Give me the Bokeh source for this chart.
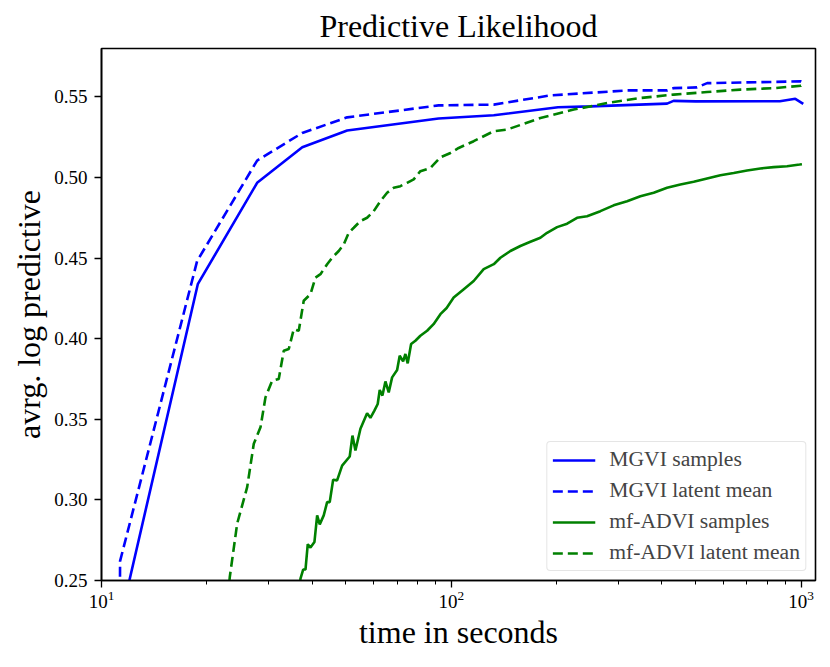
from bokeh.plotting import figure
from bokeh.models import Range1d, FixedTicker, NumeralTickFormatter, Legend
from bokeh.embed import file_html
from bokeh.resources import INLINE

TITLE = "Predictive Likelihood"
X_LABEL = "time in seconds"
Y_LABEL = "avrg. log predictive"
Y_TICKS = [0.25, 0.30, 0.35, 0.40, 0.45, 0.50, 0.55]

# MGVI samples (solid blue)
mgvi_samples_t = [11.3, 18.85, 27.86, 37.5, 50.4, 92.0, 132.3, 202.0, 250.0, 414.0, 432.0,
                  500.0, 870.0, 963.0, 1015.0]
mgvi_samples_v = [0.225, 0.4338, 0.4967, 0.5188, 0.5291, 0.5366, 0.5386, 0.5436, 0.5441, 0.5458,
                  0.5475, 0.5472, 0.5473, 0.5488, 0.5457]

# MGVI latent mean (dashed blue)
mgvi_mean_t = [11.25, 11.3, 18.77, 27.86, 37.5, 50.4, 92.0, 132.3, 192.0, 318.0, 414.0, 432.0,
               504.0, 539.0, 1000.0, 1015.0]
mgvi_mean_v = [0.15, 0.262, 0.4482, 0.5105, 0.5276, 0.5373, 0.5447, 0.5452, 0.5509, 0.5540,
               0.5540, 0.5554, 0.5559, 0.5585, 0.5596, 0.5590]

# mf-ADVI samples (solid green)
advi_samples_t = [36.9, 37.06, 37.72, 38.30, 38.88, 39.58, 40.63, 41.36, 42.07, 43.19, 44.17,
                  44.93, 45.95, 47.17, 48.75, 51.25, 52.18, 53.21, 55.00, 57.46, 58.73, 60.29,
                  61.62, 62.44, 63.56, 64.83, 66.25, 67.75, 70.02, 71.22, 72.84, 73.94, 75.07,
                  76.77, 78.97, 81.6, 85.3, 89.0, 93.1, 97.0, 101.6, 108.6, 115.9, 123.8, 132.3,
                  138.2, 147.6, 157.6, 168.4, 179.8, 187.9, 200.7, 214.4, 228.9, 244.5, 266.9,
                  291.3, 318.2, 347.3, 379.1, 414.0, 451.9, 493.3, 538.8, 588.1, 641.9, 701.1,
                  765.2, 835.2, 912.0, 990.8, 1006.0]
advi_samples_v = [0.246, 0.2512, 0.2568, 0.2568, 0.2725, 0.2704, 0.2739, 0.2904, 0.2848, 0.2904,
                  0.2986, 0.2986, 0.3125, 0.3121, 0.3213, 0.3269, 0.3399, 0.3306, 0.3441, 0.3537,
                  0.3509, 0.3554, 0.3595, 0.3682, 0.3647, 0.3735, 0.3667, 0.3760, 0.3806, 0.3894,
                  0.3859, 0.3905, 0.3847, 0.3967, 0.3987, 0.4018, 0.4049, 0.4090, 0.4152, 0.4190,
                  0.4255, 0.4307, 0.4358, 0.4431, 0.4462, 0.4502, 0.4544, 0.4575, 0.4601, 0.4626,
                  0.4657, 0.4692, 0.4713, 0.4750, 0.4760, 0.4791, 0.4827, 0.4853, 0.4884, 0.4905,
                  0.4936, 0.4957, 0.4973, 0.4994, 0.5014, 0.5028, 0.5043, 0.5056, 0.5064, 0.5070,
                  0.5080, 0.5082]

# mf-ADVI latent mean (dashed green)
advi_mean_t = [23.0, 23.27, 24.43, 26.09, 27.25, 28.48, 29.43, 30.75, 32.12, 33.20, 34.31, 35.46,
               36.64, 37.86, 39.58, 40.90, 42.27, 44.17, 45.64, 47.68, 49.27, 50.92, 52.63, 55.00,
               57.46, 60.02, 62.73, 65.55, 68.47, 71.55, 74.78, 78.10, 81.61, 87.18, 93.11, 99.45,
               105.0, 115.9, 132.3, 144.4, 179.8, 223.9, 279.0, 347.3, 432.4, 538.8, 670.8, 835.2,
               1000.0, 1006.0]
advi_mean_v = [0.240, 0.2522, 0.2853, 0.3079, 0.3348, 0.3450, 0.3636, 0.3739, 0.3750, 0.3925,
               0.3936, 0.4059, 0.4049, 0.4235, 0.4276, 0.4379, 0.4400, 0.4462, 0.4502, 0.4544,
               0.4585, 0.4657, 0.4688, 0.4730, 0.4750, 0.4791, 0.4853, 0.4905, 0.4936, 0.4946,
               0.4967, 0.4988, 0.5039, 0.5059, 0.5125, 0.5152, 0.5183, 0.5225, 0.5287, 0.5297,
               0.5369, 0.5421, 0.5462, 0.5493, 0.5514, 0.5530, 0.5545, 0.5554, 0.5569, 0.5572]

FONT = "Liberation Serif"
BLUE = "#0000ff"
GREEN = "#008000"

p = figure(frame_width=714, frame_height=532, x_axis_type="log",
           x_range=Range1d(10, 1100), y_range=Range1d(0.25, 0.58),
           output_backend="svg", toolbar_location=None,
           min_border_left=101, min_border_right=10, min_border_top=48, min_border_bottom=80,
           title=TITLE)

p.line(mgvi_samples_t, mgvi_samples_v, line_color=BLUE, line_width=2.6, legend_label="MGVI samples")
p.line(mgvi_mean_t, mgvi_mean_v, line_color=BLUE, line_width=2.6, line_dash="10 5",
       legend_label="MGVI latent mean")
p.line(advi_samples_t, advi_samples_v, line_color=GREEN, line_width=2.6, legend_label="mf-ADVI samples")
p.line(advi_mean_t, advi_mean_v, line_color=GREEN, line_width=2.6, line_dash="10 5",
       legend_label="mf-ADVI latent mean")

p.title.text_font = FONT
p.title.text_font_size = "32px"
p.title.text_font_style = "normal"
p.title.align = "center"
p.title.text_color = "black"

p.grid.visible = False
p.outline_line_color = "black"
p.outline_line_width = 1.6
p.outline_line_alpha = 1.0

for ax in (p.xaxis[0], p.yaxis[0]):
    ax.axis_line_width = 1.6
    ax.axis_line_color = "black"
    ax.major_tick_in = 0
    ax.major_tick_out = 7
    ax.minor_tick_in = 0
    ax.minor_tick_out = 4
    ax.major_tick_line_width = 1.3
    ax.minor_tick_line_width = 1.0
    ax.major_label_text_font = FONT
    ax.major_label_text_font_size = "19px"
    ax.major_label_text_color = "black"
    ax.axis_label_text_font = FONT
    ax.axis_label_text_font_size = "32px"
    ax.axis_label_text_font_style = "normal"
    ax.axis_label_text_color = "black"

p.xaxis.axis_label = X_LABEL
p.yaxis.axis_label = Y_LABEL
p.yaxis.ticker = FixedTicker(ticks=Y_TICKS)
p.yaxis.formatter = NumeralTickFormatter(format="0.00")
p.yaxis.minor_tick_out = 0
p.xaxis.major_label_standoff = 3
p.yaxis.major_label_standoff = 7
p.xaxis.axis_label_standoff = 3
p.yaxis.axis_label_standoff = 4

leg = p.legend[0]
leg.location = "bottom_right"
leg.margin = 9
leg.padding = 5
leg.spacing = 6
leg.glyph_width = 43
leg.glyph_height = 24
leg.label_height = 24
leg.label_standoff = 14
leg.label_text_font = FONT
leg.label_text_font_size = "21.6px"
leg.border_line_color = "#cccccc"
leg.border_line_width = 1
leg.background_fill_alpha = 0.8
if "border_radius" in Legend.properties():
    leg.border_radius = 4

open("out.html", "w").write(file_html(p, INLINE))
